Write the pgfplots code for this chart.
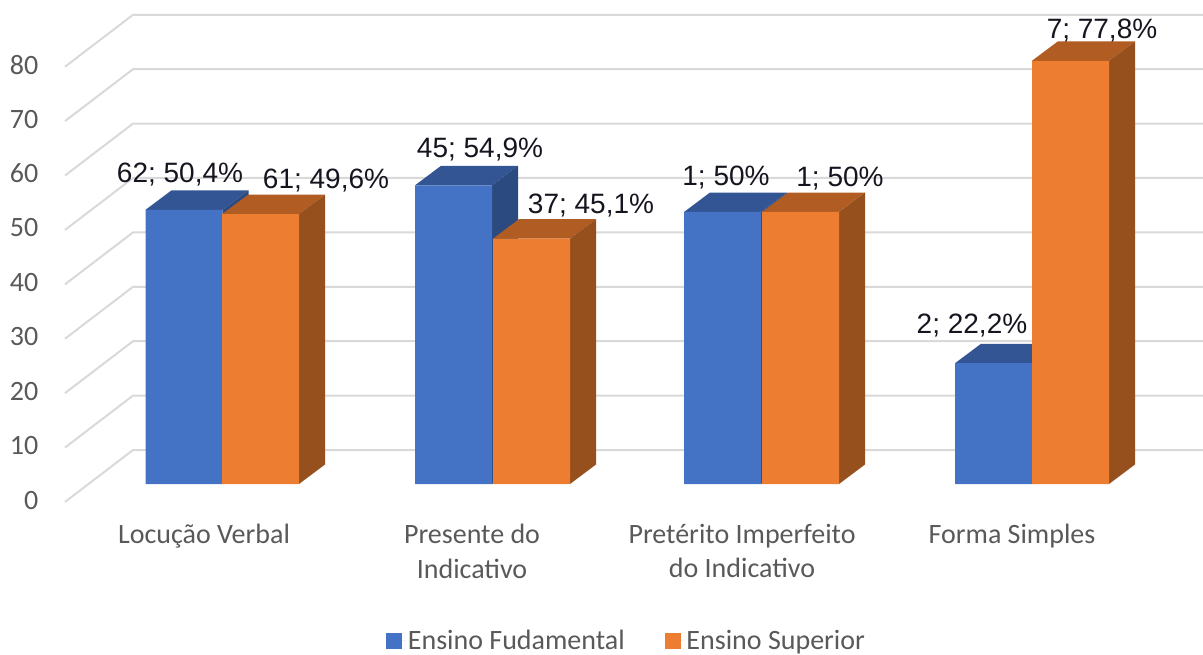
\documentclass[border=0pt]{standalone}
\usepackage{pgfplots}
\pgfplotsset{compat=1.18}
\usepackage{fontspec}
\setmainfont{Carlito}
\newfontfamily\lab{Liberation Sans}
\definecolor{bfront}{HTML}{4472C4}
\definecolor{btop}{HTML}{345594}
\definecolor{bside}{HTML}{2B4A80}
\definecolor{ofront}{HTML}{ED7D31}
\definecolor{otop}{HTML}{B15C23}
\definecolor{oside}{HTML}{96501D}
\definecolor{gridc}{HTML}{D9D9D9}
\definecolor{axt}{HTML}{595959}
\definecolor{dl}{HTML}{15151F}
\begin{document}
\begin{tikzpicture}
\begin{axis}[
  x=0.75pt, y=4.08pt,
  xmin=0, xmax=1203, ymin=-30.88, ymax=88.97,
  axis line style={draw=none},
  major tick length=0pt,
  tick style={draw=none},
  ytick={-2.76,7.24,17.24,27.24,37.24,47.24,57.24,67.24,77.24},
  yticklabels={0,10,20,30,40,50,60,70,80},
  yticklabel style={font=\fontsize{21}{24}\selectfont, text=axt, anchor=east, xshift=32.25pt, yshift=-0.75pt},
  xtick={204,472,742,1012},
  xticklabels={{Locução Verbal},{Presente do\\Indicativo},{Pretérito Imperfeito\\do Indicativo},{Forma Simples}},
  xticklabel style={font=\fontsize{21}{26}\selectfont, text=axt, align=center, anchor=north, yshift=99.5pt},
  legend columns=2,
  legend style={at={(axis cs:386,-28.85)}, anchor=west, draw=none, fill=none, inner sep=0pt,
    font=\fontsize{21}{24}\selectfont, text=axt,
    /tikz/every even column/.append style={column sep=28pt}},
  legend image code/.code={\fill[#1] (0pt,-6pt) rectangle (12pt,6pt); \path (0pt,0pt) -- (14.25pt,0pt);},
  ybar legend/.style={},
]
% gridlines (back wall and floor edge), values 0 to 80
\addplot[forget plot, gridc, line width=1.5pt] coordinates {(65,-3.3)(133,6.25)(1203,6.25)};
\addplot[forget plot, gridc, line width=1.5pt] coordinates {(65,6.7)(133,16.25)(1203,16.25)};
\addplot[forget plot, gridc, line width=1.5pt] coordinates {(65,16.7)(133,26.25)(1203,26.25)};
\addplot[forget plot, gridc, line width=1.5pt] coordinates {(65,26.7)(133,36.25)(1203,36.25)};
\addplot[forget plot, gridc, line width=1.5pt] coordinates {(65,36.7)(133,46.25)(1203,46.25)};
\addplot[forget plot, gridc, line width=1.5pt] coordinates {(65,46.7)(133,56.25)(1203,56.25)};
\addplot[forget plot, gridc, line width=1.5pt] coordinates {(65,56.7)(133,66.25)(1203,66.25)};
\addplot[forget plot, gridc, line width=1.5pt] coordinates {(65,66.7)(133,76.25)(1203,76.25)};
\addplot[forget plot, gridc, line width=1.5pt] coordinates {(65,76.7)(133,86.25)(1203,86.25)};
% blue tops and sides
\addplot[forget plot, fill=btop, draw=none] coordinates {(145.5,50.4)(222.5,50.4)(248.5,53.98)(171.5,53.98)} -- cycle;
\addplot[forget plot, fill=bside, draw=none] coordinates {(222.5,0)(248.5,3.58)(248.5,53.98)(222.5,50.4)} -- cycle;
\addplot[forget plot, fill=btop, draw=none] coordinates {(415,54.9)(492,54.9)(518,58.48)(441,58.48)} -- cycle;
\addplot[forget plot, fill=bside, draw=none] coordinates {(492,0)(518,3.58)(518,58.48)(492,54.9)} -- cycle;
\addplot[forget plot, fill=btop, draw=none] coordinates {(684,50)(761,50)(787,53.58)(710,53.58)} -- cycle;
\addplot[forget plot, fill=bside, draw=none] coordinates {(761,0)(787,3.58)(787,53.58)(761,50)} -- cycle;
\addplot[forget plot, fill=btop, draw=none] coordinates {(955,22.2)(1032,22.2)(1058,25.78)(981,25.78)} -- cycle;
\addplot[forget plot, fill=bside, draw=none] coordinates {(1032,0)(1058,3.58)(1058,25.78)(1032,22.2)} -- cycle;
% blue fronts
\addplot[ybar, bar width=77, bar shift=0pt, fill=bfront, draw=none] coordinates {(184,50.4)(453.5,54.9)(722.5,50)(993.5,22.2)};
\addlegendentry{Ensino Fudamental}
% orange tops and sides
\addplot[forget plot, fill=otop, draw=none] coordinates {(222,49.6)(299,49.6)(325,53.18)(248,53.18)} -- cycle;
\addplot[forget plot, fill=oside, draw=none] coordinates {(299,0)(325,3.58)(325,53.18)(299,49.6)} -- cycle;
\addplot[forget plot, fill=otop, draw=none] coordinates {(493,45.1)(570,45.1)(596,48.68)(519,48.68)} -- cycle;
\addplot[forget plot, fill=oside, draw=none] coordinates {(570,0)(596,3.58)(596,48.68)(570,45.1)} -- cycle;
\addplot[forget plot, fill=otop, draw=none] coordinates {(762,50)(839,50)(865,53.58)(788,53.58)} -- cycle;
\addplot[forget plot, fill=oside, draw=none] coordinates {(839,0)(865,3.58)(865,53.58)(839,50)} -- cycle;
\addplot[forget plot, fill=otop, draw=none] coordinates {(1032,77.8)(1109,77.8)(1135,81.38)(1058,81.38)} -- cycle;
\addplot[forget plot, fill=oside, draw=none] coordinates {(1109,0)(1135,3.58)(1135,81.38)(1109,77.8)} -- cycle;
% orange fronts
\addplot[ybar, bar width=77, bar shift=0pt, fill=ofront, draw=none] coordinates {(260.5,49.6)(531.5,45.1)(800.5,50)(1070.5,77.8)};
\addlegendentry{Ensino Superior}
% data labels
\tikzset{dlab/.style={anchor=base, text=dl, inner sep=0pt, font=\lab\fontsize{21}{24}\selectfont}}
\node[dlab] at (axis cs:180,55.33) {62; 50,4\%};
\node[dlab] at (axis cs:326,54.4) {61; 49,6\%};
\node[dlab] at (axis cs:480,60.1) {45; 54,9\%};
\node[dlab] at (axis cs:591,49.8) {37; 45,1\%};
\node[dlab] at (axis cs:726,54.96) {1; 50\%};
\node[dlab] at (axis cs:840,54.6) {1; 50\%};
\node[dlab] at (axis cs:972,27.7) {2; 22,2\%};
\node[dlab] at (axis cs:1102,81.98) {7; 77,8\%};
\end{axis}
\end{tikzpicture}
\end{document}
